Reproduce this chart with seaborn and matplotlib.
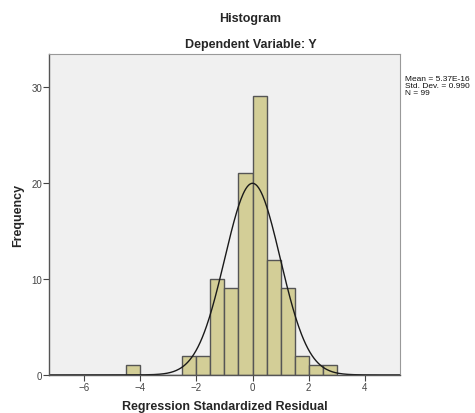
import numpy as np
import pandas as pd
import matplotlib
matplotlib.use("Agg")
import matplotlib.pyplot as plt
import seaborn as sns

bin_centers = [-4.25, -2.25, -1.75, -1.25, -0.75, -0.25, 0.25, 0.75, 1.25, 1.75, 2.25, 2.75]
counts = [1, 2, 2, 10, 9, 21, 29, 12, 9, 2, 1, 1]
x_ticks = [-6, -4, -2, 0, 2, 4]
y_ticks = [0, 10, 20, 30]
mean_val = 5.37e-16
std_val = 0.990
n_val = 99
bin_width = 0.5

sns.set_style("white")
plt.rcParams['font.family'] = ['Liberation Sans', 'DejaVu Sans']

df = pd.DataFrame({"resid": bin_centers, "count": counts})

fig = plt.figure(figsize=(4.75, 4.14), dpi=100)
ax = fig.add_axes([0.103, 0.092, 0.739, 0.775])
ax.set_facecolor("#F0F0F0")

sns.histplot(data=df, x="resid", weights="count", binwidth=bin_width,
             binrange=(-4.5, 3.0), color="#D3CE97", edgecolor="#555555",
             linewidth=1.0, alpha=1, ax=ax)

xs = np.linspace(-7.25, 5.25, 500)
ys = n_val * bin_width / (std_val * np.sqrt(2 * np.pi)) * np.exp(-0.5 * ((xs - mean_val) / std_val) ** 2)
sns.lineplot(x=xs, y=ys, color="#1a1a1a", linewidth=1.0, ax=ax)

ax.set_xlim(-7.25, 5.25)
ax.set_ylim(0, 33.4)
ax.set_xticks(x_ticks)
ax.set_yticks(y_ticks)
ax.tick_params(axis="both", which="major", bottom=True, left=True, top=False, right=False,
               direction="out", length=4, width=0.8, colors="#444444",
               labelsize=7, labelcolor="#444444", pad=1)
for s in ["left", "bottom"]:
    ax.spines[s].set_color("#555555")
    ax.spines[s].set_linewidth(1.0)
for s in ["top", "right"]:
    ax.spines[s].set_color("#999999")
    ax.spines[s].set_linewidth(0.8)

ax.set_xlabel("Regression Standardized Residual", fontsize=9, fontweight="bold", labelpad=6)
ax.set_ylabel("Frequency", fontsize=9, fontweight="bold", labelpad=5)

fig.text(0.527, 0.955, "Histogram", ha="center", va="center", fontsize=9, fontweight="bold")
fig.text(0.527, 0.892, "Dependent Variable: Y", ha="center", va="center", fontsize=9, fontweight="bold")

fig.text(0.852, 0.79, "Mean = 5.37E-16\nStd. Dev. = 0.990\nN = 99", ha="left", va="center",
         fontsize=6, linespacing=1.0, color="#111111")

fig.savefig("out.png", dpi=100)
